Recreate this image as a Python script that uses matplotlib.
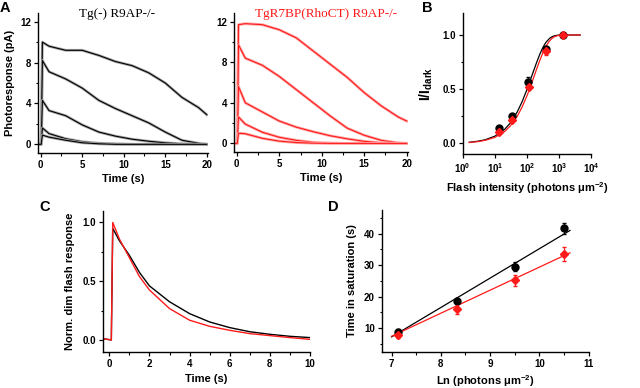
import numpy as np
import matplotlib
matplotlib.use("Agg")
import matplotlib.pyplot as plt
from matplotlib.ticker import MultipleLocator, NullLocator, LogLocator

plt.rcParams['font.family'] = 'Liberation Sans'
plt.rcParams['font.weight'] = 'bold'
plt.rcParams['axes.labelweight'] = 'bold'
plt.rcParams['mathtext.fontset'] = 'custom'
plt.rcParams['mathtext.rm'] = 'Liberation Sans:bold'
plt.rcParams['mathtext.it'] = 'Liberation Sans:bold'
plt.rcParams['mathtext.bf'] = 'Liberation Sans:bold'

RED = '#ff1a1a'

# --- panel A: saturating flash responses (pA) ---
tA = [-0.3, 0.05, 0.2, 1, 3, 5, 7, 9, 11, 13, 15, 17, 19, 20]
ctrl_traces = [
    [0, 0, 10.0, 9.6, 9.2, 9.2, 8.7, 8.1, 7.7, 7.0, 6.0, 4.6, 3.6, 2.9],
    [0, 0, 8.2, 7.1, 6.4, 5.5, 4.3, 3.5, 2.8, 2.1, 1.2, 0.4, 0.1, 0.0],
    [0, 0, 4.3, 3.3, 2.8, 1.9, 1.2, 0.8, 0.5, 0.3, 0.15, 0.05, 0.0, 0.0],
    [0, 0, 1.6, 1.05, 0.55, 0.25, 0.1, 0.05, 0.0, 0.0, 0.0, 0.0, 0.0, 0.0],
    [0, 0, 0.9, 0.7, 0.4, 0.15, 0.05, 0.0, 0.0, 0.0, 0.0, 0.0, 0.0, 0.0],
]
rho_traces = [
    [0, 0, 11.7, 11.8, 11.7, 11.2, 10.4, 9.1, 7.8, 6.5, 5.0, 3.7, 2.6, 2.2],
    [0, 0, 9.7, 8.4, 7.7, 6.6, 5.3, 4.0, 2.7, 1.5, 0.8, 0.3, 0.05, 0.0],
    [0, 0, 5.6, 4.0, 3.1, 2.2, 1.6, 1.15, 0.75, 0.45, 0.2, 0.05, 0.0, 0.0],
    [0, 0, 2.6, 1.9, 1.1, 0.6, 0.3, 0.1, 0.03, 0.0, 0.0, 0.0, 0.0, 0.0],
    [0, 0, 1.0, 0.95, 0.5, 0.22, 0.08, 0.02, 0.0, 0.0, 0.0, 0.0, 0.0, 0.0],
]

# --- panel B: intensity-response ---
flash_ctrl = [13, 35, 110, 400, 1300]
resp_ctrl = [0.14, 0.25, 0.57, 0.87, 1.0]
err_ctrl = [0.02, 0.02, 0.04, 0.02, 0.0]
flash_rho = [13, 35, 115, 400, 1300]
resp_rho = [0.11, 0.22, 0.52, 0.85, 1.0]
err_rho = [0.02, 0.02, 0.02, 0.03, 0.0]
fit_x = [1.6, 3, 5, 10, 20, 30, 50, 70, 100, 120, 150, 200, 250, 300, 350, 400,
         500, 600, 700, 800, 1000, 1500, 2500, 4500]
fit_ctrl = [0.011, 0.021, 0.034, 0.067, 0.129, 0.187, 0.292, 0.383, 0.498, 0.563,
            0.645, 0.748, 0.822, 0.874, 0.911, 0.937, 0.968, 0.984, 0.992, 0.996,
            0.999, 1.0, 1.0, 1.0]
fit_rho = [0.009, 0.017, 0.029, 0.056, 0.109, 0.160, 0.252, 0.334, 0.440, 0.501,
           0.581, 0.687, 0.765, 0.824, 0.869, 0.902, 0.945, 0.969, 0.983, 0.990,
           0.997, 1.0, 1.0, 1.0]

# --- panel C: normalized dim flash responses ---
tC = [-0.3, 0.1, 0.17, 0.5, 1, 1.5, 2, 3, 4, 5, 6, 7, 8, 9, 10]
dim_ctrl = [0.01, 0.0, 0.95, 0.845, 0.72, 0.575, 0.46, 0.325, 0.224, 0.153, 0.105,
            0.07, 0.048, 0.031, 0.02]
dim_rho = [0.01, 0.0, 1.0, 0.86, 0.70, 0.54, 0.425, 0.267, 0.168, 0.116, 0.082,
           0.054, 0.037, 0.02, 0.005]

# --- panel D: time in saturation ---
ln_flash = [7.13, 8.33, 9.5, 10.5]
tsat_ctrl = [8.8, 18.7, 29.5, 41.7]
tsat_ctrl_err = [0.9, 1.0, 1.5, 1.7]
tsat_rho = [7.9, 16.1, 25.2, 33.6]
tsat_rho_err = [1.0, 1.5, 1.8, 2.3]
line_x = [7.0, 10.62]
line_ctrl = [7.2, 41.0]
line_rho = [7.4, 33.9]

W, H = 640, 388
fig = plt.figure(figsize=(6.4, 3.88), dpi=100)


def add_ax(l, t, r, b):
    # pixel box -> figure axes
    return fig.add_axes([l / W, 1 - b / H, (r - l) / W, (b - t) / H])


def style(ax):
    for s in ['top', 'right']:
        ax.spines[s].set_visible(False)
    for s in ['left', 'bottom']:
        ax.spines[s].set_linewidth(1.0)
    ax.tick_params(which='major', direction='out', length=3, width=0.9,
                   labelsize=7, pad=2)
    ax.tick_params(which='minor', direction='out', length=1.8, width=0.8)
    for lab in ax.get_xticklabels() + ax.get_yticklabels():
        lab.set_fontweight('bold')


axA1 = add_ax(38, 13, 208, 153)
axA2 = add_ax(234, 13, 408, 152)
axB = add_ax(462.7, 13.3, 591.3, 154.3)
axC = add_ax(102.7, 210.7, 310, 351.7)
axD = add_ax(381.7, 210, 588.7, 351.7)

for ax, traces, col, halo in [(axA1, ctrl_traces, 'black', '#a8a8a8'),
                              (axA2, rho_traces, RED, '#ffa8a8')]:
    for tr in traces:
        ax.plot(tA, tr, color=halo, lw=2.0, solid_joinstyle='round')
        ax.plot(tA, tr, color=col, lw=0.8)
    ax.set_xlim(-0.33, 20.15)
    ax.set_ylim(-0.85, 12.85)
    ax.xaxis.set_major_locator(MultipleLocator(5))
    ax.xaxis.set_minor_locator(MultipleLocator(2.5))
    ax.yaxis.set_major_locator(MultipleLocator(4))
    ax.yaxis.set_minor_locator(MultipleLocator(2))
    ax.set_xlabel('Time (s)', fontsize=8, labelpad=3)
    style(ax)

axA1.set_ylabel('Photoresponse (pA)', fontsize=8, labelpad=4)
fig.text(117 / W, 1 - 14 / H, 'Tg(-) R9AP-/-', family='Liberation Serif',
         weight='normal', fontsize=9.5, ha='center', va='center')
fig.text(326 / W, 1 - 14 / H, 'TgR7BP(RhoCT) R9AP-/-', family='Liberation Serif',
         weight='normal', fontsize=9.5, ha='center', va='center', color=RED)

# B
axB.plot(fit_x, fit_ctrl, color='black', lw=0.9)
axB.plot(fit_x, fit_rho, color=RED, lw=0.9)
axB.errorbar(flash_ctrl, resp_ctrl, yerr=err_ctrl, fmt='o', color='black',
             ms=5, capsize=1.5, elinewidth=0.8)
axB.errorbar(flash_rho, resp_rho, yerr=err_rho, fmt='D', color=RED,
             ms=4.5, capsize=1.5, elinewidth=0.8)
axB.set_xscale('log')
axB.set_xlim(1, 1e4)
axB.set_ylim(-0.1, 1.2)
axB.xaxis.set_major_locator(LogLocator(base=10, numticks=6))
axB.xaxis.set_minor_locator(NullLocator())
axB.yaxis.set_major_locator(MultipleLocator(0.5))
axB.yaxis.set_minor_locator(MultipleLocator(0.25))
axB.yaxis.set_major_formatter(plt.FormatStrFormatter('%.1f'))
style(axB)
axB.set_ylabel(r'I/I$_{\mathrm{dark}}$', fontsize=10, labelpad=5)
axB.set_xlabel(r'Flash intensity (photons μm$^{\mathrm{-2}}$)', fontsize=8, labelpad=4)

# C
axC.plot(tC, dim_ctrl, color='black', lw=1.0)
axC.plot(tC, dim_rho, color=RED, lw=1.0)
axC.set_xlim(-0.33, 10)
axC.set_ylim(-0.1, 1.1)
axC.xaxis.set_major_locator(MultipleLocator(2))
axC.xaxis.set_minor_locator(MultipleLocator(1))
axC.yaxis.set_major_locator(MultipleLocator(0.5))
axC.yaxis.set_minor_locator(MultipleLocator(0.25))
axC.yaxis.set_major_formatter(plt.FormatStrFormatter('%.1f'))
style(axC)
axC.set_ylabel('Norm. dim flash response', fontsize=8, labelpad=5)
axC.set_xlabel('Time (s)', fontsize=8, labelpad=4)

# D
axD.plot(line_x, line_ctrl, color='black', lw=0.9)
axD.plot(line_x, line_rho, color=RED, lw=0.9)
axD.errorbar(ln_flash, tsat_ctrl, yerr=tsat_ctrl_err, fmt='o', color='black',
             ms=5, capsize=1.5, elinewidth=0.8)
axD.errorbar(ln_flash, tsat_rho, yerr=tsat_rho_err, fmt='D', color=RED,
             ms=4.5, capsize=1.5, elinewidth=0.8)
axD.set_xlim(6.8, 11)
axD.set_ylim(2.5, 47.5)
axD.xaxis.set_major_locator(MultipleLocator(1))
axD.xaxis.set_minor_locator(MultipleLocator(0.5))
axD.yaxis.set_major_locator(MultipleLocator(10))
axD.yaxis.set_minor_locator(MultipleLocator(5))
style(axD)
axD.set_ylabel('Time in saturation (s)', fontsize=8, labelpad=5)
axD.set_xlabel(r'Ln (photons μm$^{\mathrm{-2}}$)', fontsize=8, labelpad=3)

# panel letters
for lab, x, y in [('A', 5, 8), ('B', 427, 8), ('C', 45, 207), ('D', 333, 207)]:
    fig.text(x / W, 1 - y / H, lab, fontsize=10.5, weight='bold',
             ha='center', va='center')

fig.savefig('out.png', dpi=100)
